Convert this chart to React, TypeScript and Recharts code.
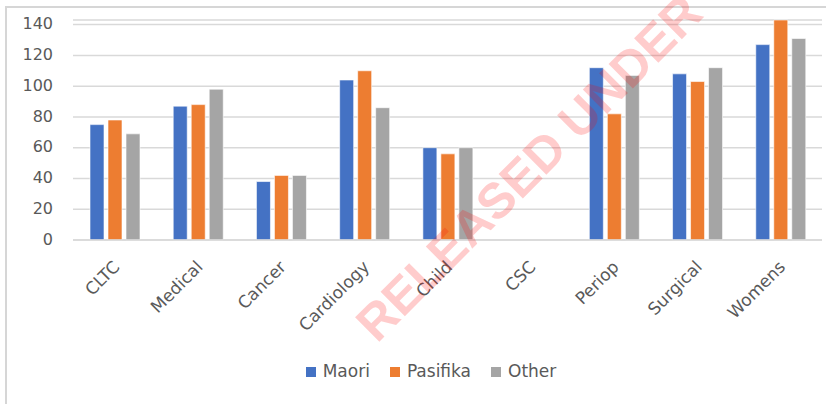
import React from "react";
import {
  BarChart,
  Bar,
  XAxis,
  YAxis,
  CartesianGrid,
  Legend,
} from "recharts";

// categories and values
const categories = [
  "CLTC",
  "Medical",
  "Cancer",
  "Cardiology",
  "Child",
  "CSC",
  "Periop",
  "Surgical",
  "Womens",
];
const maori = [75, 87, 38, 104, 60, 0, 112, 108, 127];
const pasifika = [78, 88, 42, 110, 56, 0, 82, 103, 143];
const other = [69, 98, 42, 86, 60, 0, 107, 112, 131];
const yTicks = [0, 20, 40, 60, 80, 100, 120, 140];

const series = [
  { key: "maori", name: "Maori", color: "#4472C4" },
  { key: "pasifika", name: "Pasifika", color: "#ED7D31" },
  { key: "other", name: "Other", color: "#A5A5A5" },
];

const data = categories.map((name, i) => ({
  name,
  maori: maori[i],
  pasifika: pasifika[i],
  other: other[i],
}));

const FONT = "'DejaVu Sans', sans-serif";
const TEXT = "#595959";

// rotated category labels
const XTick = (props: any) => {
  const { x, y, payload } = props;
  return (
    <g transform={`translate(${x + 6},${y + 20})`}>
      <text
        transform="rotate(-45)"
        textAnchor="end"
        fill={TEXT}
        fontSize={17}
        fontFamily={FONT}
      >
        {payload.value}
      </text>
    </g>
  );
};

const LegendBox = () => (
  <div
    style={{
      display: "flex",
      justifyContent: "center",
      alignItems: "center",
      paddingLeft: 40,
      fontFamily: FONT,
      fontSize: 17,
      color: TEXT,
      height: 28,
    }}
  >
    {series.map((s, i) => (
      <div
        key={s.key}
        style={{
          display: "flex",
          alignItems: "center",
          marginRight: i < series.length - 1 ? 20 : 0,
        }}
      >
        <span
          style={{
            width: 10,
            height: 10,
            background: s.color,
            display: "inline-block",
            marginRight: 7,
            marginTop: 2,
          }}
        />
        {s.name}
      </div>
    ))}
  </div>
);

export default function App() {
  return (
    <div
      style={{
        position: "absolute",
        left: 0,
        top: 0,
        width: 826,
        height: 404,
        background: "#fff",
        overflow: "hidden",
      }}
    >
      {/* frame lines */}
      <div
        style={{
          position: "absolute",
          left: 5,
          top: 6,
          width: 821,
          height: 398,
          borderTop: "2px solid #d6d6d6",
          borderLeft: "2px solid #d6d6d6",
        }}
      />
      <BarChart
        width={826}
        height={404}
        data={data}
        margin={{ top: 20, right: 4, bottom: 19, left: 0 }}
        barCategoryGap="19%"
        barGap={4}
      >
        <CartesianGrid vertical={false} stroke="#D9D9D9" strokeWidth={1.5} />
        <XAxis
          dataKey="name"
          interval={0}
          height={117}
          tickLine={false}
          axisLine={{ stroke: "#D9D9D9", strokeWidth: 1.5 }}
          tick={<XTick />}
        />
        <YAxis
          width={73}
          domain={[0, 140]}
          ticks={yTicks}
          axisLine={false}
          tickLine={false}
          tickMargin={14}
          tick={{ fill: TEXT, fontSize: 16, fontFamily: FONT, dy: -1 }}
        />
        <Legend verticalAlign="bottom" height={28} content={<LegendBox />} />
        {series.map((s) => (
          <Bar
            key={s.key}
            dataKey={s.key}
            name={s.name}
            fill={s.color}
            barSize={14}
            stroke="#ffffff"
            strokeWidth={0.6}
            isAnimationActive={false}
          />
        ))}
      </BarChart>
      {/* watermark */}
      <svg
        width={826}
        height={404}
        style={{ position: "absolute", left: 0, top: 0, pointerEvents: "none" }}
      >
        <text
          x={529}
          y={168}
          transform="rotate(-45 529 168)"
          textAnchor="middle"
          dominantBaseline="central"
          fontFamily="'Liberation Sans', Arial, sans-serif"
          fontWeight="bold"
          fontSize={50}
          fill="#ff0000"
          fillOpacity={0.2}
        >
          RELEASED UNDER
        </text>
      </svg>
    </div>
  );
}
